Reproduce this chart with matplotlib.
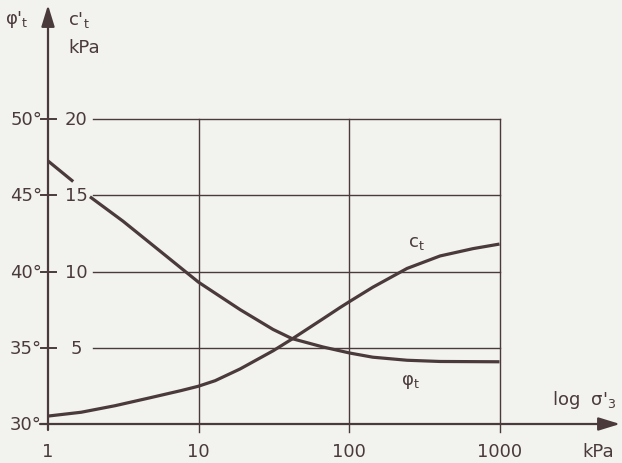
import numpy as np
import matplotlib.pyplot as plt

# effective stress sigma'_3 (kPa) and readings
# (nan = the break in the phi curve beside the "15" label)
phi_kpa = [1.0, 1.47, np.nan, 1.90, 3.15, 5.30, 10.0, 13.5, 18.9, 31.3, 41.8, 67.2,
           101.6, 144.0, 243.0, 403.0, 1000.0]
phi_deg = [47.25, 45.9, np.nan, 44.9, 43.3, 41.5, 39.3, 38.45, 37.5, 36.2, 35.6, 35.05,
           34.65, 34.38, 34.18, 34.1, 34.08]

c_kpa = [1.0, 1.66, 2.79, 4.62, 7.65, 9.93, 12.9, 18.9, 31.3, 41.8, 67.2, 87.0, 101.6,
         144.0, 243.0, 403.0, 667.0, 1000.0]
c_val = [0.52, 0.77, 1.2, 1.69, 2.19, 2.47, 2.84, 3.61, 4.8, 5.57, 6.9, 7.63, 8.05,
         8.97, 10.2, 11.02, 11.5, 11.8]

c_ticks = [0, 5, 10, 15, 20]
phi_ticks = ["30°", "35°", "40°", "45°", "50°"]
x_ticks = [1, 10, 100, 1000]

bg = "#f2f2ef"
ink = "#4a3a3c"

fig = plt.figure(figsize=(6.22, 4.64), dpi=100)
fig.set_facecolor(bg)
ax = fig.add_axes([0, 0, 1, 1])
ax.set_facecolor(bg)
ax.set_xscale("log")
# pixel layout: x=1 at 48px, 150.5 px per decade; c=0 at 425px, 15.25 px per kPa
ax.set_xlim(10 ** (-48 / 150.5), 10 ** ((622 - 48) / 150.5))
ax.set_ylim(-(464 - 425) / 15.25, 425 / 15.25)
ax.set_axis_off()


def px(x):
    # horizontal pixel -> kPa
    return 10 ** ((x - 48) / 150.5)


def py(y):
    # vertical pixel -> c units
    return (425 - y) / 15.25


# phi drawn on the same axis: phi = 30 + c
phi_c = [p - 30 for p in phi_deg]

# grid
for c in c_ticks[1:]:
    ax.plot([px(93), 1000], [c, c], color=ink, lw=1.0, zorder=1)
for xv in x_ticks[1:]:
    ax.plot([xv, xv], [-0.5, 20], color=ink, lw=1.0, zorder=1)

# axes with arrows
arrow = dict(arrowstyle="-|>,head_length=1.3,head_width=0.4", color=ink, lw=1.6, shrinkA=0, shrinkB=0)
ax.annotate("", xy=(1, py(6)), xytext=(1, py(431)), arrowprops=arrow)
ax.annotate("", xy=(px(620), 0), xytext=(px(40), 0), arrowprops=arrow)

# y ticks and labels
for c, lab in zip(c_ticks, phi_ticks):
    ax.plot([px(41), px(56)], [c, c], color=ink, lw=1.4, zorder=2)
    ax.text(px(42), c, lab, ha="right", va="center", fontsize=13, color=ink)
    if c > 0:
        ax.text(px(76), c, str(c), ha="center", va="center", fontsize=13, color=ink)

# x tick labels
for xv in x_ticks:
    ax.text(xv, py(452), str(xv), ha="center", va="center", fontsize=13, color=ink)
ax.text(px(598), py(452), "kPa", ha="center", va="center", fontsize=13, color=ink)
ax.text(px(552), py(400), "log  σ$'_3$", ha="left", va="center", fontsize=13, color=ink)

# curves
ax.plot(phi_kpa, phi_c, color=ink, lw=2.3, zorder=3, solid_capstyle="butt", solid_joinstyle="round")
ax.plot(c_kpa, c_val, color=ink, lw=2.3, zorder=3, solid_capstyle="butt", solid_joinstyle="round")

ax.text(px(416), py(243), r"c$_\mathrm{t}$", ha="center", va="center", fontsize=13, color=ink)
ax.text(px(410), py(382), r"φ$_\mathrm{t}$", ha="center", va="center", fontsize=13, color=ink)

# axis titles
ax.text(px(17), py(20), r"φ$'_\mathrm{t}$", ha="center", va="center", fontsize=13, color=ink)
ax.text(px(68), py(20), r"c$'_\mathrm{t}$", ha="left", va="center", fontsize=13, color=ink)
ax.text(px(68), py(48), "kPa", ha="left", va="center", fontsize=13, color=ink)

fig.savefig("out.png", dpi=100, facecolor=bg)
